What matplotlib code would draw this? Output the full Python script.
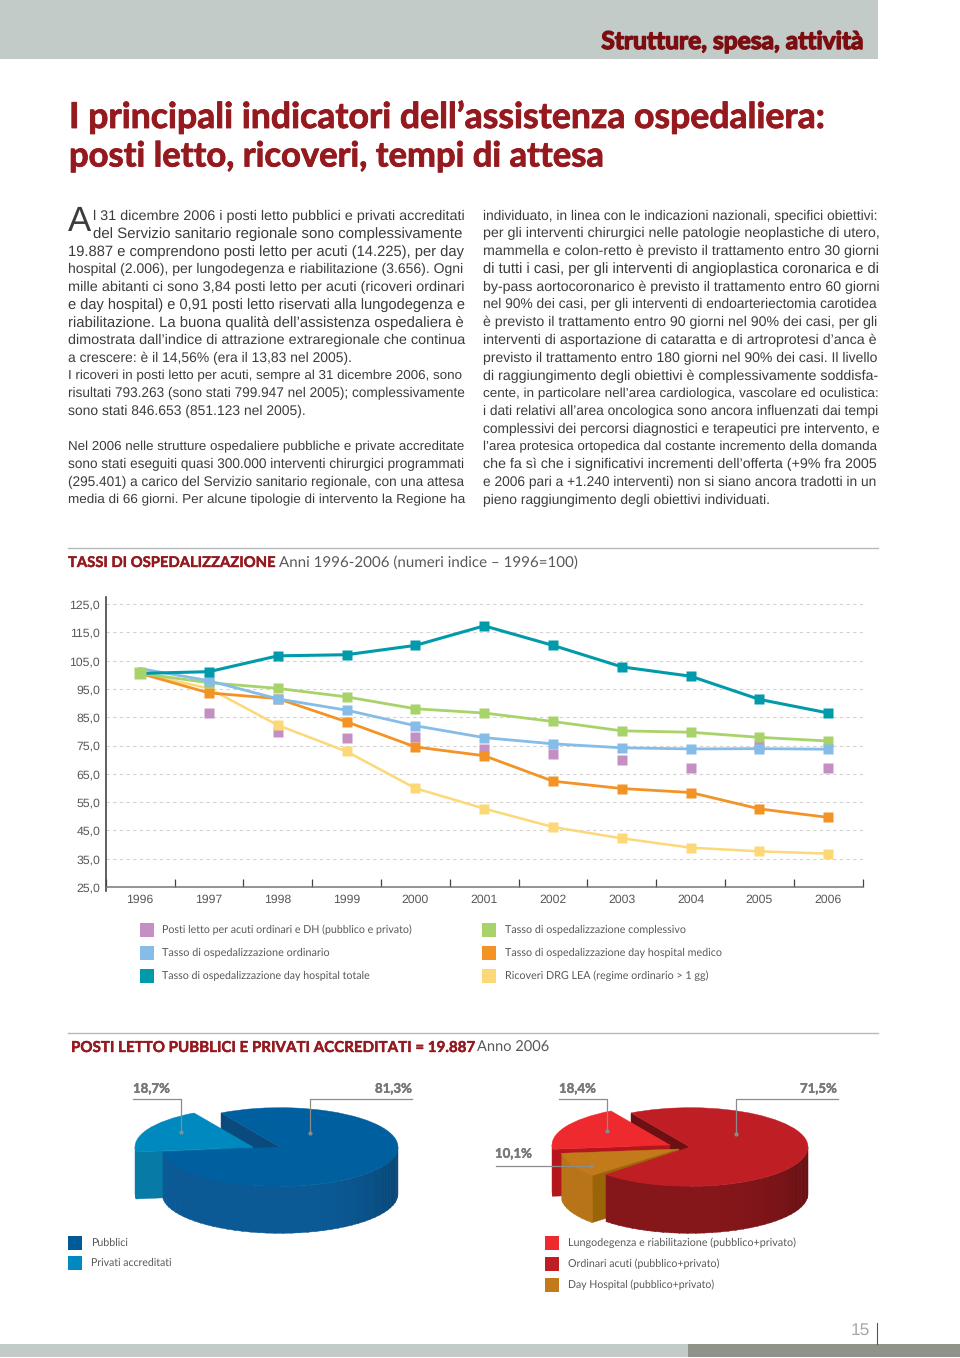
import numpy as np
import matplotlib
matplotlib.use('Agg')
import matplotlib.pyplot as plt
import matplotlib.patheffects as pe
from matplotlib.patches import Rectangle, Wedge, Polygon

plt.rcParams['text.hinting'] = 'none'

W, H = 960, 1358
NARROW = ['Lato', 'Liberation Sans']
SANS = ['Liberation Sans']

# dati grafico a linee
anni = ['1996', '1997', '1998', '1999', '2000', '2001', '2002', '2003', '2004', '2005', '2006']
posti_letto = [100.5, 86.4, 79.8, 77.8, 78.0, 73.8, 71.9, 70.0, 67.2, 75.0, 67.2]
ricoveri_drg = [100.5, 95.2, 82.2, 72.9, 59.9, 52.7, 46.2, 42.2, 38.9, 37.6, 36.8]
dh_medico = [100.5, 93.6, 91.6, 83.4, 74.5, 71.4, 62.4, 59.8, 58.4, 52.6, 49.6]
ordinario = [102.2, 97.9, 91.5, 87.5, 82.0, 77.8, 75.6, 74.2, 73.8, 73.9, 73.7]
complessivo = [100.5, 97.2, 95.2, 92.2, 88.0, 86.5, 83.5, 80.2, 79.7, 77.9, 76.6]
dh_totale = [100.5, 101.1, 106.7, 107.1, 110.4, 117.3, 110.4, 102.8, 99.5, 91.3, 86.5]
y_ticks = [25, 35, 45, 55, 65, 75, 85, 95, 105, 115, 125]

# dati torte
posti_tipo = [18.7, 81.3]
posti_acuti = [18.4, 10.1, 71.5]

legenda_sx = ['Posti letto per acuti ordinari e DH (pubblico e privato)',
              'Tasso di ospedalizzazione ordinario',
              'Tasso di ospedalizzazione day hospital totale']
legenda_dx = ['Tasso di ospedalizzazione complessivo',
              'Tasso di ospedalizzazione day hospital medico',
              'Ricoveri DRG LEA (regime ordinario > 1 gg)']

col1 = ['l 31 dicembre 2006 i posti letto pubblici e privati accreditati',
        'del Servizio sanitario regionale sono complessivamente',
        '19.887 e comprendono posti letto per acuti (14.225), per day',
        'hospital (2.006), per lungodegenza e riabilitazione (3.656). Ogni',
        'mille abitanti ci sono 3,84 posti letto per acuti (ricoveri ordinari',
        'e day hospital) e 0,91 posti letto riservati alla lungodegenza e',
        'riabilitazione. La buona qualità dell’assistenza ospedaliera è',
        'dimostrata dall’indice di attrazione extraregionale che continua',
        'a crescere: è il 14,56% (era il 13,83 nel 2005).',
        'I ricoveri in posti letto per acuti, sempre al 31 dicembre 2006, sono',
        'risultati 793.263 (sono stati 799.947 nel 2005); complessivamente',
        'sono stati 846.653 (851.123 nel 2005).',
        '',
        'Nel 2006 nelle strutture ospedaliere pubbliche e private accreditate',
        'sono stati eseguiti quasi 300.000 interventi chirurgici programmati',
        '(295.401) a carico del Servizio sanitario regionale, con una attesa',
        'media di 66 giorni. Per alcune tipologie di intervento la Regione ha']
col2 = ['individuato, in linea con le indicazioni nazionali, specifici obiettivi:',
        'per gli interventi chirurgici nelle patologie neoplastiche di utero,',
        'mammella e colon-retto è previsto il trattamento entro 30 giorni',
        'di tutti i casi, per gli interventi di angioplastica coronarica e di',
        'by-pass aortocoronarico è previsto il trattamento entro 60 giorni',
        'nel 90% dei casi, per gli interventi di endoarteriectomia carotidea',
        'è previsto il trattamento entro 90 giorni nel 90% dei casi, per gli',
        'interventi di asportazione di cataratta e di artroprotesi d’anca è',
        'previsto il trattamento entro 180 giorni nel 90% dei casi. Il livello',
        'di raggiungimento degli obiettivi è complessivamente soddisfa-',
        'cente, in particolare nell’area cardiologica, vascolare ed oculistica:',
        'i dati relativi all’area oncologica sono ancora influenzati dai tempi',
        'complessivi dei percorsi diagnostici e terapeutici pre intervento, e',
        'l’area protesica ortopedica dal costante incremento della domanda',
        'che fa sì che i significativi incrementi dell’offerta (+9% fra 2005',
        'e 2006 pari a +1.240 interventi) non si siano ancora tradotti in un',
        'pieno raggiungimento degli obiettivi individuati.']

VIOLA = '#c490c4'
AZZURRO = '#85bce8'
TEAL = '#009aab'
VERDE = '#a8d26a'
ARANCIO = '#f39325'
GIALLO = '#fcd878'
ROSSO = '#951a1f'
GRIGIO = '#58585a'
TESTO = '#3c3c3e'

fig = plt.figure(figsize=(W / 100, H / 100), dpi=100)
rend = fig.canvas.get_renderer()
page = fig.add_axes([0, 0, 1, 1])
page.set_xlim(0, W)
page.set_ylim(H, 0)
page.axis('off')


def txt(x, y, s, size, color=GRIGIO, family=SANS, width=None, stroke=0, **kw):
    # se width e dato, il corpo viene adattato alla larghezza in pixel
    kw.setdefault('va', 'center')
    t = page.text(x, y, s, fontsize=size, color=color, family=family, **kw)
    if width:
        t.set_fontsize(size * width / t.get_window_extent(rend).width)
    if stroke:
        t.set_path_effects([pe.withStroke(linewidth=stroke, foreground=color)])
    return t


def box(x0, y0, x1, y1, color):
    page.add_patch(Rectangle((x0, y0), x1 - x0, y1 - y0, fc=color, ec='none'))


# testata e piede pagina
box(0, 0, 878, 59, '#c3cbc8')
txt(863, 49, 'Strutture, spesa, attività', 19, '#7c0e12', NARROW, width=262, stroke=1.0,
    ha='right', va='baseline', weight='bold')
box(0, 1344, 688, 1357, '#c3cbc8')
box(688, 1344, 960, 1357, '#8f9389')
txt(860, 1330, '15', 12.5, '#a8a8a8', ha='center')
page.plot([877, 877], [1323, 1344], color='#555555', lw=0.8)

# titolo
txt(69, 128, 'I principali indicatori dell’assistenza ospedaliera:', 27, ROSSO, NARROW, width=756,
    stroke=0.6, va='baseline', weight='bold')
txt(69, 166.5, 'posti letto, ricoveri, tempi di attesa', 27, ROSSO, NARROW, width=535,
    stroke=0.6, va='baseline', weight='bold')

# testo su due colonne
txt(68, 222, 'A', 25, TESTO)
corte = ['a crescere', 'sono stati 846', 'pieno raggiungimento']
for i, riga in enumerate(col1):
    x0 = 93 if i < 2 else 68
    w = None if riga == '' or riga.startswith(tuple(corte)) else 464 - x0
    txt(x0, 216 + i * 17.77, riga, 10, TESTO, width=w)
for i, riga in enumerate(col2):
    w = None if riga.startswith(tuple(corte)) else 395
    txt(483, 216 + i * 17.77, riga, 10, TESTO, width=w)

# intestazioni sezioni
page.plot([68, 878], [548, 548], color='#b5b8b5', lw=1)
txt(68, 567, 'TASSI DI OSPEDALIZZAZIONE', 13, ROSSO, NARROW, width=207, stroke=0.3, va='baseline', weight='bold')
txt(279, 567, 'Anni 1996-2006 (numeri indice – 1996=100)', 13, GRIGIO, NARROW, width=299, va='baseline')
page.plot([68, 878], [1033, 1033], color='#b5b8b5', lw=1)
txt(71, 1052, 'POSTI LETTO PUBBLICI E PRIVATI ACCREDITATI = 19.887', 13, ROSSO, NARROW, width=403,
    stroke=0.3, va='baseline', weight='bold')
txt(477, 1052, 'Anno 2006', 13, GRIGIO, NARROW, width=72, va='baseline')

# grafico a linee
top, bottom, left, right = 597, 887, 105.7, 862.7
ax = fig.add_axes([left / W, 1 - bottom / H, (right - left) / W, (bottom - top) / H])
ax.patch.set_alpha(0)
x = np.arange(len(anni))
ax.set_xlim(-0.5, 10.5)
ax.set_ylim(25, 127.5)
ax.set_yticks(y_ticks)
ax.set_yticklabels([('%.1f' % v).replace('.', ',') for v in y_ticks], fontsize=8.8, color=GRIGIO, family=SANS)
ax.set_xticks(x)
ax.set_xticklabels(anni, fontsize=8.8, color=GRIGIO, family=SANS)
ax.set_xticks(np.arange(-0.5, 11, 1), minor=True)
ax.tick_params(axis='x', which='major', length=0, pad=5)
ax.tick_params(axis='x', which='minor', direction='in', length=6, width=0.9, color='#444444')
ax.tick_params(axis='y', length=0, pad=4)
ax.grid(axis='y', color='#d2d2d2', lw=0.8, ls=(0, (3, 3)))
ax.set_axisbelow(True)
for s in ['top', 'right']:
    ax.spines[s].set_visible(False)
ax.spines['left'].set_color('#444444')
ax.spines['left'].set_linewidth(1.2)
ax.spines['bottom'].set_color('#777777')
ax.spines['bottom'].set_linewidth(1.1)
page.plot([left, left], [887, 891], color='#444444', lw=1.2)

ms = 7.2
ax.plot(x, posti_letto, ls='none', marker='s', ms=ms, mec='none', color=VIOLA)
ax.plot(x, ricoveri_drg, color=GIALLO, lw=1.8, marker='s', ms=ms, mec='none')
ax.plot(x, dh_medico, color=ARANCIO, lw=2.0, marker='s', ms=ms, mec='none')
ax.plot(x, complessivo, color=VERDE, lw=2.0, marker='s', ms=ms, mec='none')
ax.plot(x, ordinario, color=AZZURRO, lw=2.0, marker='s', ms=ms, mec='none', markevery=list(range(1, 11)))
ax.plot(x, dh_totale, color=TEAL, lw=2.2, marker='s', ms=ms, mec='none', markevery=list(range(1, 11)))
# nel 1996 il quadratino verde sta sopra agli altri
ax.plot(x[:1], complessivo[:1], ls='none', marker='s', ms=ms + 1, mec='none', color=VERDE)

# legenda grafico a linee
for i, (s, c, w) in enumerate(zip(legenda_sx, [VIOLA, AZZURRO, TEAL], [249, 168, 209])):
    y = 930 + i * 23
    box(140, y - 7, 154, y + 7, c)
    txt(162, y, s, 9, GRIGIO, NARROW, width=w)
for i, (s, c, w) in enumerate(zip(legenda_dx, [VERDE, ARANCIO, GIALLO], [181, 217, 205])):
    y = 930 + i * 23
    box(482, y - 7, 496, y + 7, c)
    txt(505, y, s, 9, GRIGIO, NARROW, width=w)

# torte: assi con y schiacciata di 3 volte, cosi un cerchio diventa ellisse
pie = fig.add_axes([0, 0, 1, 1])
pie.set_xlim(0, W)
pie.set_ylim(0, H * 3)
pie.axis('off')
pie.patch.set_alpha(0)
RX = 118
DEPTH = 47


def yp(py):
    return (H - py) * 3


def scurisci(color, f):
    return tuple(np.array(matplotlib.colors.to_rgb(color)) * f)


def faccia(cx, cy, t1, t2, color):
    pie.add_patch(Wedge((cx, yp(cy)), RX, t1, t2, fc=color, ec=color, lw=0.3))


def parete(cx, cy, t1, t2, color):
    # parete esterna a fette strette, piu scura verso destra
    a = np.arange(t1, t2, 4.0)
    for t in a:
        if np.sin(np.radians(t + 2)) > 0:
            continue
        th = np.radians([t, min(t + 4.5, t2)])
        px = cx + RX * np.cos(th)
        py = yp(cy) + RX * np.sin(th)
        f = 1 - 0.22 * max(0, np.cos(np.radians(t + 2))) ** 3
        c = scurisci(color, f)
        pie.add_patch(Polygon([(px[0], py[0]), (px[1], py[1]),
                               (px[1], py[1] - DEPTH * 3), (px[0], py[0] - DEPTH * 3)],
                              fc=c, ec=c, lw=0.3))


def taglio(cx, cy, t, color):
    # parete sul raggio
    rx = cx + RX * np.cos(np.radians(t))
    ry = yp(cy) + RX * np.sin(np.radians(t))
    pie.add_patch(Polygon([(cx, yp(cy)), (rx, ry), (rx, ry - DEPTH * 3), (cx, yp(cy) - DEPTH * 3)],
                          fc=color, ec=color, lw=0.3))


START = 120
# torta sinistra
t_priv = START + posti_tipo[0] * 3.6
taglio(280, 1147, START, '#0a4a7c')
taglio(253, 1147, t_priv, '#087aa6')
parete(253, 1147, 180, t_priv, '#087aa6')
faccia(253, 1147, START, t_priv, '#0089bf')
parete(280, 1147, t_priv, 360, '#0b5a96')
faccia(280, 1147, t_priv, START + 360, '#005f9e')

# torta destra
t_lung = START + posti_acuti[0] * 3.6
t_day = t_lung + posti_acuti[1] * 3.6
taglio(690, 1147, START, '#6e1013')
taglio(670, 1145, t_lung, '#b5161c')
parete(670, 1145, 180, t_lung, '#b5161c')
faccia(670, 1145, START, t_lung, '#ee2a2e')
taglio(679, 1149, t_day, '#9a6408')
parete(679, 1149, t_lung, t_day, '#b87418')
faccia(679, 1149, t_lung, t_day, '#c27a1a')
parete(690, 1147, t_day + 2, 360, '#85161a')
faccia(690, 1147, t_day + 2, START + 360, '#bf1e24')

# etichette torte (sopra tutto)
top_ax = fig.add_axes([0, 0, 1, 1])
top_ax.set_xlim(0, W)
top_ax.set_ylim(H, 0)
top_ax.axis('off')
top_ax.patch.set_alpha(0)
for s, tx, ha, xs, ys in [('%.1f%%' % posti_tipo[0], 133, 'left', [133, 181, 181], [1099, 1099, 1132]),
                          ('%.1f%%' % posti_tipo[1], 412, 'right', [412, 310, 310], [1099, 1099, 1133]),
                          ('%.1f%%' % posti_acuti[0], 559, 'left', [559, 607, 607], [1099, 1099, 1131]),
                          ('%.1f%%' % posti_acuti[2], 837, 'right', [838, 736, 736], [1099, 1099, 1134]),
                          ('%.1f%%' % posti_acuti[1], 495, 'left', [496, 591], [1166, 1166])]:
    y_t = 1154 if len(xs) == 2 else 1089
    t = top_ax.text(tx, y_t, s.replace('.', ','), fontsize=10.5, weight='bold', color='#77787a',
                    family=NARROW, ha=ha, va='center')
    t.set_fontsize(10.5 * 37 / t.get_window_extent(rend).width)
    t.set_path_effects([pe.withStroke(linewidth=0.3, foreground='#77787a')])
    top_ax.plot(xs, ys, color='#8c8c8c', lw=0.9)
    top_ax.plot(xs[-1], ys[-1], 'o', ms=2, color='#8c8c8c')

# legende torte
for s, c, y, w in [('Pubblici', '#005a98', 1243, 37), ('Privati accreditati', '#0089bf', 1263, 81)]:
    box(68, y - 7, 82, y + 7, c)
    txt(91, y, s, 9, GRIGIO, NARROW, width=w)
for s, c, y, w in [('Lungodegenza e riabilitazione (pubblico+privato)', '#ee2a2e', 1243, 227),
                   ('Ordinari acuti (pubblico+privato)', '#bf1e24', 1264, 151),
                   ('Day Hospital (pubblico+privato)', '#c27a1a', 1285, 147)]:
    box(545, y - 7, 559, y + 7, c)
    txt(568, y, s, 9, GRIGIO, NARROW, width=w)

fig.savefig('out.png', dpi=100)
